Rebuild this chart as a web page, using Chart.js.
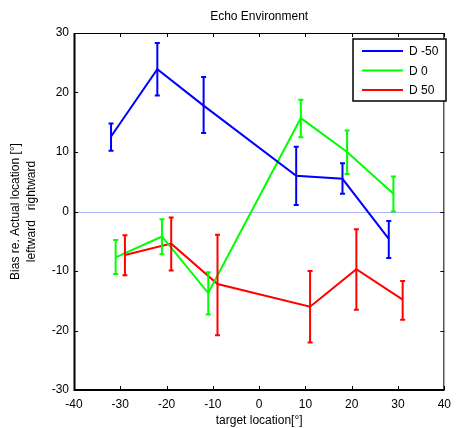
<!DOCTYPE html>
<html>
<head>
<meta charset="utf-8">
<script src="https://cdn.jsdelivr.net/npm/chart.js@4"></script>
<style>
  html, body { margin: 0; padding: 0; background: #fff; }
  #wrap { width: 458px; height: 428px; }
</style>
</head>
<body>
<div id="wrap"><canvas id="echoChart" width="458" height="428"></canvas></div>
<script>
// Daten
const seriesNames = ['D -50', 'D 0', 'D 50'];
const seriesColors = ['#0000ff', '#00ff00', '#ff0000'];

const xBlue = [-32, -22, -12, 8, 18, 28];
const yBlue = [12.6, 23.9, 17.8, 6.0, 5.5, -4.6];
const hiBlue = [14.8, 28.3, 22.6, 10.9, 8.1, -1.6];
const loBlue = [10.2, 19.5, 13.2, 1.1, 3.0, -7.8];

const xGreen = [-31, -21, -11, 9, 19, 29];
const yGreen = [-7.7, -4.2, -13.7, 15.7, 10.0, 3.0];
const hiGreen = [-4.8, -1.3, -10.2, 18.8, 13.6, 5.9];
const loGreen = [-10.5, -7.2, -17.3, 12.5, 6.3, 0.0];

const xRed = [-29, -19, -9, 11, 21, 31];
const yRed = [-7.3, -5.4, -12.2, -16.0, -9.7, -14.8];
const hiRed = [-4.0, -1.0, -3.9, -10.0, -3.0, -11.7];
const loRed = [-10.7, -9.9, -20.8, -22.0, -16.5, -18.2];

const xTicks = [-40, -30, -20, -10, 0, 10, 20, 30, 40];
const yTicks = [-30, -20, -10, 0, 10, 20, 30];

const titleText = 'Echo Environment';
const xTitle = 'target location[°]';
const yTitle = ['Bias re. Actual location [°]', 'leftward   rightward'];

const FONT = '"Liberation Sans", Arial, sans-serif';

function makePoints(xs, ys) {
    return xs.map((x, i) => ({ x: x, y: ys[i] }));
}

const errorData = [
    { hi: hiBlue, lo: loBlue, x: xBlue },
    { hi: hiGreen, lo: loGreen, x: xGreen },
    { hi: hiRed, lo: loRed, x: xRed }
];

// Fehlerbalken, Rahmen, Ticks nach innen, Legende
const matlabPlugin = {
    id: 'matlabLook',
    beforeDatasetsDraw(chart) {
        const ctx = chart.ctx;
        const ys = chart.scales.y;
        const a = chart.chartArea;
        // Nulllinie
        ctx.save();
        ctx.strokeStyle = '#aab4f5';
        ctx.lineWidth = 1;
        const y0 = Math.round(ys.getPixelForValue(0)) + 0.5;
        ctx.beginPath();
        ctx.moveTo(a.left, y0);
        ctx.lineTo(a.right, y0);
        ctx.stroke();
        ctx.restore();
    },
    afterDatasetsDraw(chart) {
        const ctx = chart.ctx;
        const xs = chart.scales.x, ys = chart.scales.y;
        ctx.save();
        errorData.forEach((e, s) => {
            ctx.strokeStyle = seriesColors[s];
            ctx.lineWidth = 2;
            e.x.forEach((xv, i) => {
                const px = xs.getPixelForValue(xv);
                const pt = ys.getPixelForValue(e.hi[i]);
                const pb = ys.getPixelForValue(e.lo[i]);
                ctx.beginPath();
                ctx.moveTo(px, pt); ctx.lineTo(px, pb);
                ctx.moveTo(px - 2.5, pt); ctx.lineTo(px + 2.5, pt);
                ctx.moveTo(px - 2.5, pb); ctx.lineTo(px + 2.5, pb);
                ctx.stroke();
            });
        });
        ctx.restore();
    },
    afterDraw(chart) {
        const ctx = chart.ctx;
        const xs = chart.scales.x, ys = chart.scales.y;
        const a = chart.chartArea;
        ctx.save();
        // Rahmen
        ctx.strokeStyle = '#000';
        ctx.lineWidth = 1;
        ctx.strokeRect(a.left + 0.5, a.top + 0.5, a.right - a.left - 1, a.bottom - a.top - 1);
        ctx.lineWidth = 2;
        ctx.beginPath();
        ctx.moveTo(a.left + 0.5, a.top);
        ctx.lineTo(a.left + 0.5, a.bottom);
        ctx.lineTo(a.right, a.bottom);
        ctx.stroke();
        // Ticks nach innen
        ctx.lineWidth = 1;
        ctx.beginPath();
        xTicks.forEach(t => {
            const px = Math.round(xs.getPixelForValue(t)) + 0.5;
            ctx.moveTo(px, a.bottom); ctx.lineTo(px, a.bottom - 4);
            ctx.moveTo(px, a.top); ctx.lineTo(px, a.top + 4);
        });
        yTicks.forEach(t => {
            const py = Math.round(ys.getPixelForValue(t)) + 0.5;
            ctx.moveTo(a.left, py); ctx.lineTo(a.left + 4, py);
            ctx.moveTo(a.right, py); ctx.lineTo(a.right - 4, py);
        });
        ctx.stroke();
        // Titel
        ctx.fillStyle = '#000';
        ctx.font = '12px ' + FONT;
        ctx.textAlign = 'center';
        ctx.textBaseline = 'middle';
        ctx.fillText(titleText, (a.left + a.right) / 2, 17);
        // Legende
        const lx = 353, ly = 39, lw = 93, lh = 62;
        ctx.fillStyle = '#fff';
        ctx.fillRect(lx, ly, lw, lh);
        ctx.strokeStyle = '#000';
        ctx.lineWidth = 1.5;
        ctx.strokeRect(lx, ly, lw, lh);
        ctx.font = '12px ' + FONT;
        ctx.textAlign = 'left';
        seriesNames.forEach((name, i) => {
            const yy = 51 + i * 19.5;
            ctx.strokeStyle = seriesColors[i];
            ctx.lineWidth = 2;
            ctx.beginPath();
            ctx.moveTo(362, yy); ctx.lineTo(403, yy);
            ctx.stroke();
            ctx.fillStyle = '#000';
            ctx.fillText(name, 409, yy + 1);
        });
        ctx.restore();
    }
};

const datasets = [
    makePoints(xBlue, yBlue),
    makePoints(xGreen, yGreen),
    makePoints(xRed, yRed)
].map((pts, i) => ({
    label: seriesNames[i],
    data: pts,
    showLine: true,
    borderColor: seriesColors[i],
    backgroundColor: seriesColors[i],
    borderWidth: 2,
    pointRadius: 0,
    tension: 0
}));

const config = {
    type: 'scatter',
    data: { datasets: datasets },
    options: {
        responsive: false,
        animation: false,
        layout: { padding: { top: 33, right: 6, left: 8, bottom: 0 } },
        plugins: {
            legend: { display: false },
            title: { display: false },
            tooltip: { enabled: false }
        },
        scales: {
            x: {
                type: 'linear',
                min: -40,
                max: 40,
                afterBuildTicks: (scale) => { scale.ticks = xTicks.map(v => ({ value: v })); },
                afterFit: (scale) => { scale.height = 38; },
                grid: { display: false, drawTicks: false },
                border: { display: false },
                ticks: { color: '#000', font: { family: FONT, size: 12 }, padding: 7, maxRotation: 0 },
                title: { display: true, text: xTitle, color: '#000', font: { family: FONT, size: 12 }, padding: { top: 0, bottom: 0 } }
            },
            y: {
                type: 'linear',
                min: -30,
                max: 30,
                afterBuildTicks: (scale) => { scale.ticks = yTicks.map(v => ({ value: v })); },
                afterFit: (scale) => { scale.width = 66; },
                grid: { display: false, drawTicks: false },
                border: { display: false },
                ticks: { color: '#000', font: { family: FONT, size: 12 }, padding: 5 },
                title: { display: true, text: yTitle, color: '#000', font: { family: FONT, size: 12, lineHeight: 1.3 }, padding: { top: 0, bottom: 4 } }
            }
        }
    },
    plugins: [matlabPlugin]
};

const echoCtx = document.getElementById('echoChart').getContext('2d');
new Chart(echoCtx, config);
</script>
</body>
</html>
